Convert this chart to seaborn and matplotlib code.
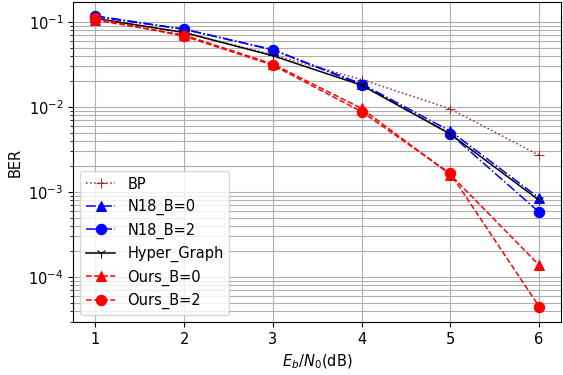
import numpy as np
import seaborn as sns
import matplotlib.pyplot as plt

# Eb/N0 points (dB)
snr = [1, 2, 3, 4, 5, 6]

# BER values
ber_bp = [0.110, 0.075, 0.041, 0.021, 0.0095, 0.0027]
ber_n18_b0 = [0.115, 0.082, 0.047, 0.0187, 0.0052, 0.00085]
ber_n18_b2 = [0.118, 0.082, 0.047, 0.0182, 0.0048, 0.00058]
ber_hyper = [0.110, 0.075, 0.040, 0.0180, 0.0048, 0.00080]
ber_ours_b0 = [0.105, 0.070, 0.032, 0.0096, 0.0016, 0.000138]
ber_ours_b2 = [0.110, 0.068, 0.031, 0.0088, 0.00165, 0.000045]

series = [
    ("BP", ber_bp, dict(color="brown", linestyle=":", marker="+", markersize=7.5)),
    ("N18_B=0", ber_n18_b0, dict(color="blue", linestyle="-.", marker="^", markersize=7.5)),
    ("N18_B=2", ber_n18_b2, dict(color="blue", linestyle="-.", marker="o", markersize=7.5)),
    ("Hyper_Graph", ber_hyper, dict(color="black", linestyle="-", marker="1", markersize=7.5)),
    ("Ours_B=0", ber_ours_b0, dict(color="red", linestyle="--", marker="^", markersize=7.5)),
    ("Ours_B=2", ber_ours_b2, dict(color="red", linestyle="--", marker="o", markersize=7.5)),
]

plt.rcParams["font.size"] = 10.5

fig, ax = plt.subplots(figsize=(5.63, 3.75), dpi=100)
for label, ber, kw in series:
    sns.lineplot(x=snr, y=ber, label=label, ax=ax, linewidth=1.1,
                 markeredgecolor=kw["color"], **kw)

ax.set_yscale("log")
ax.set_ylim(2.95e-5, 0.172)
ax.set_xlim(0.75, 6.25)
ax.grid(True, which="major", color="#b0b0b0", linewidth=0.8)
ax.grid(True, which="minor", axis="y", color="#b0b0b0", linewidth=0.8)
ax.tick_params(labelsize=10.5)
ax.set_xlabel(r"$E_b/N_0$(dB)", fontsize=10.5)
ax.set_ylabel("BER", fontsize=10.5)
ax.legend(loc="lower left", fontsize=10.5)

plt.subplots_adjust(left=0.13, right=0.997, top=0.995, bottom=0.141)
plt.savefig("out.png", dpi=100)
